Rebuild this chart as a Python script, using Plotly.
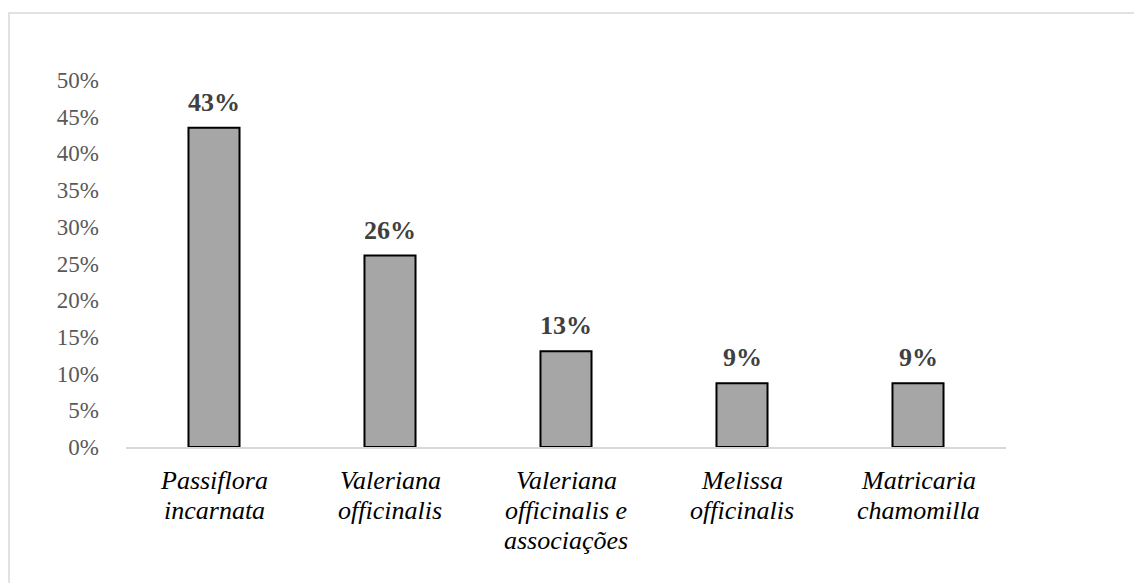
import plotly.graph_objects as go

categories = ["Passiflora incarnata", "Valeriana officinalis", "Valeriana officinalis e associações",
              "Melissa officinalis", "Matricaria chamomilla"]
category_lines = [["Passiflora", "incarnata"], ["Valeriana", "officinalis"],
                  ["Valeriana", "officinalis e", "associações"],
                  ["Melissa", "officinalis"], ["Matricaria", "chamomilla"]]
values = [0.4348, 0.2609, 0.1304, 0.0870, 0.0870]
value_labels = ["43%", "26%", "13%", "9%", "9%"]
y_ticks = [0, 0.05, 0.10, 0.15, 0.20, 0.25, 0.30, 0.35, 0.40, 0.45, 0.50]
y_tick_labels = ["0%", "5%", "10%", "15%", "20%", "25%", "30%", "35%", "40%", "45%", "50%"]

W, H = 1134, 583
ML, MR, MT, MB = 126, 128, 80, 136
pw, ph = W - ML - MR, H - MT - MB
SERIF = "Liberation Serif, Times New Roman, serif"

fig = go.Figure()
fig.add_trace(go.Bar(
    x=categories, y=values, width=0.29,
    marker=dict(color="#A6A6A6", line=dict(color="#000000", width=2)),
    hoverinfo="skip",
))
for c, v, t in zip(categories, values, value_labels):
    fig.add_annotation(x=c, y=v, text="<b>" + t + "</b>", showarrow=False,
                       yanchor="bottom", yshift=9,
                       font=dict(family=SERIF, size=26, color="#404040"))

# category labels, line by line (tighter line spacing than plotly's default)
for c, lines in zip(categories, category_lines):
    for j, line in enumerate(lines):
        fig.add_annotation(x=c, y=0, text=line, showarrow=False,
                           yanchor="top", yshift=-(17 + 30 * j),
                           font=dict(family=SERIF, size=26, color="#000000", style="italic"))

# outer frame
fig.add_shape(type="rect", xref="paper", yref="paper", layer="below",
              x0=(9 - ML) / pw, x1=(W + 20 - ML) / pw,
              y0=-(H + 20 - MT - ph) / ph, y1=(H - MB - 13) / ph,
              line=dict(color="#D9D9D9", width=1.5), fillcolor="rgba(0,0,0,0)")

fig.update_layout(
    width=W, height=H,
    margin=dict(l=ML, r=MR, t=MT, b=MB),
    paper_bgcolor="white", plot_bgcolor="white",
    showlegend=False,
    font=dict(family=SERIF),
)
fig.update_xaxes(
    showticklabels=False,
    showline=True, linecolor="#D9D9D9", linewidth=1.5,
    ticks="", showgrid=False,
)
fig.update_yaxes(
    range=[0, 0.5], tickvals=y_ticks, ticktext=y_tick_labels,
    tickfont=dict(family=SERIF, size=23, color="#595959"),
    showgrid=False, zeroline=False, showline=False, ticks="",
    ticklabelstandoff=26,
)
fig.write_html("out.html")
